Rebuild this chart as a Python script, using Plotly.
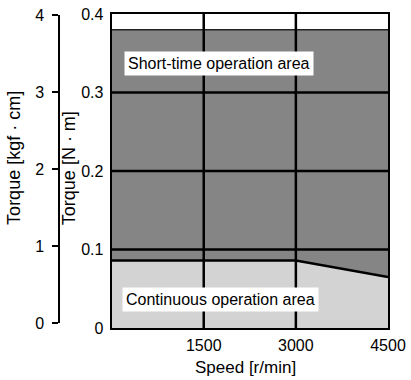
import plotly.graph_objects as go

# Speed–torque characteristics
speed = [0, 1500, 3000, 4500]                      # r/min
short_time_torque = [0.38, 0.38, 0.38, 0.38]       # N·m
continuous_torque = [0.086, 0.086, 0.086, 0.065]   # N·m

speed_ticks = [1500, 3000, 4500]
nm_ticks = [0, 0.1, 0.2, 0.3, 0.4]
nm_labels = ["0", "0.1", "0.2", "0.3", "0.4"]
kgf_ticks = [0, 1, 2, 3, 4]
kgf_labels = ["0", "1", "2", "3", "4"]

FONT = "Liberation Sans, Arial, sans-serif"
W, H = 411, 380
ML, MR, MT, MB = 5, 18, 14, 52
plot_w = W - ML - MR
plot_h = H - MT - MB

def px_x(px):
    return (px - ML) / plot_w

def px_y(py):
    return (H - MB - py) / plot_h

x_start = px_x(113)
outer_pos = px_x(60)

fig = go.Figure()

fig.add_trace(go.Scatter(
    x=speed, y=short_time_torque, mode="lines",
    line=dict(color="#222222", width=1.5),
    fill="tozeroy", fillcolor="#858585",
    hoverinfo="skip", showlegend=False,
))
fig.add_trace(go.Scatter(
    x=speed, y=continuous_torque, mode="lines",
    line=dict(color="black", width=2.5),
    fill="tozeroy", fillcolor="#d3d3d3",
    hoverinfo="skip", showlegend=False,
))
# invisible trace so the kgf·cm axis gets drawn
fig.add_trace(go.Scatter(
    x=[speed[0], speed[-1]], y=[kgf_ticks[0], kgf_ticks[-1]], yaxis="y2",
    mode="markers", marker=dict(opacity=0), hoverinfo="skip", showlegend=False,
))

# Grid lines drawn over the filled areas
shapes = []
for v in speed_ticks[:-1]:
    shapes.append(dict(type="line", xref="x", yref="y", x0=v, x1=v,
                       y0=nm_ticks[0], y1=nm_ticks[-1],
                       line=dict(color="black", width=2.5), layer="above"))
for v in nm_ticks[1:-1]:
    shapes.append(dict(type="line", xref="x", yref="y", x0=speed[0], x1=speed[-1],
                       y0=v, y1=v,
                       line=dict(color="black", width=2.5), layer="above"))

annotations = [
    dict(x=1750, y=0.337, xref="x", yref="y", text="Short-time operation area",
         showarrow=False, font=dict(family=FONT, size=16, color="black"),
         bgcolor="white", borderpad=3, xanchor="center", yanchor="middle"),
    dict(x=1770, y=0.036, xref="x", yref="y", text="Continuous operation area",
         showarrow=False, font=dict(family=FONT, size=16, color="black"),
         bgcolor="white", borderpad=3, xanchor="center", yanchor="middle"),
    dict(x=px_x(70), y=px_y(168), xref="paper", yref="paper", text="Torque [N · m]",
         textangle=-90, showarrow=False, font=dict(family=FONT, size=18, color="black"),
         xanchor="center", yanchor="middle"),
    dict(x=px_x(14), y=px_y(158), xref="paper", yref="paper", text="Torque [kgf · cm]",
         textangle=-90, showarrow=False, font=dict(family=FONT, size=18, color="black"),
         xanchor="center", yanchor="middle"),
    dict(x=px_x(249), y=px_y(367), xref="paper", yref="paper", text="Speed [r/min]",
         showarrow=False, font=dict(family=FONT, size=17, color="black"),
         xanchor="center", yanchor="middle"),
]

fig.update_layout(
    width=W, height=H,
    margin=dict(l=ML, r=MR, t=MT, b=MB),
    paper_bgcolor="white", plot_bgcolor="rgba(0,0,0,0)",
    font=dict(family=FONT, size=16, color="black"),
    shapes=shapes, annotations=annotations,
    xaxis=dict(
        domain=[x_start, 1], range=[speed[0], speed[-1]],
        tickvals=speed_ticks, ticktext=[str(v) for v in speed_ticks],
        showgrid=False, zeroline=False, showline=True, mirror=True,
        linecolor="black", linewidth=2, ticks="", ticklabelstandoff=2,
        layer="above traces", fixedrange=True,
    ),
    yaxis=dict(
        domain=[0, 1], range=[nm_ticks[0], nm_ticks[-1]],
        tickvals=nm_ticks, ticktext=nm_labels,
        showgrid=False, zeroline=False, showline=True, mirror=True,
        linecolor="black", linewidth=2, ticks="", ticklabelstandoff=3,
        layer="above traces", fixedrange=True,
    ),
    yaxis2=dict(
        domain=[px_y(323), px_y(15)],
        anchor="free", position=outer_pos, side="left",
        range=[kgf_ticks[0], kgf_ticks[-1]],
        tickvals=kgf_ticks, ticktext=kgf_labels,
        showgrid=False, zeroline=False, showline=True,
        linecolor="black", linewidth=2, ticks="outside", ticklen=6,
        tickwidth=2, tickcolor="black", ticklabelstandoff=5, fixedrange=True,
    ),
)

fig.write_html("out.html")
